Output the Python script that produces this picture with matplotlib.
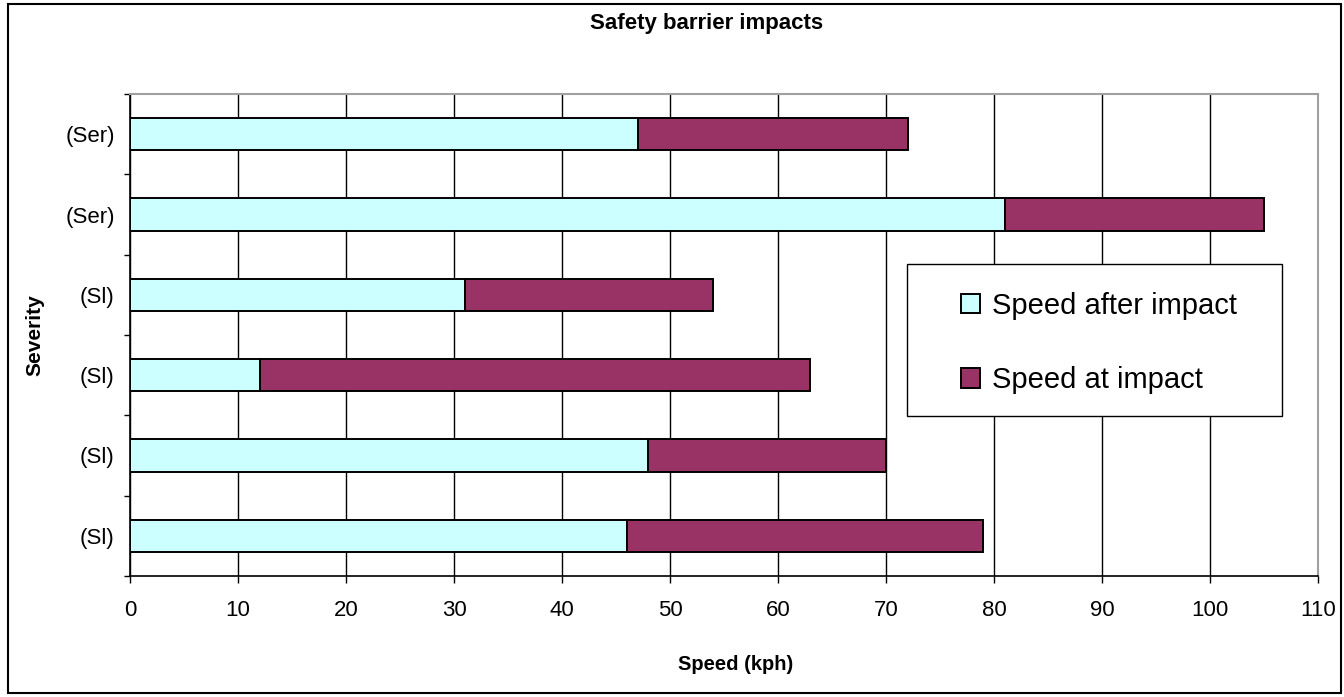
import matplotlib
matplotlib.use("Agg")
import matplotlib.pyplot as plt
from matplotlib.patches import Rectangle
import numpy as np

plt.rcParams["font.family"] = ["Liberation Sans", "DejaVu Sans"]

# bottom to top, as drawn
severity = ["(Sl)", "(Sl)", "(Sl)", "(Sl)", "(Ser)", "(Ser)"]
speed_after_impact = [46, 48, 12, 31, 81, 47]
speed_at_impact = [33, 22, 51, 23, 24, 25]
x_ticks = list(range(0, 111, 10))

W, H = 1344, 697
fig = plt.figure(figsize=(W / 100, H / 100), dpi=100)
ax = fig.add_axes([130 / W, 1 - 576 / H, (1318 - 130) / W, (576 - 94) / H])

pos = np.arange(len(severity))
ax.barh(pos, speed_after_impact, height=0.4, color="#CCFFFF", edgecolor="black",
        linewidth=1.4, label="Speed after impact", zorder=3)
ax.barh(pos, speed_at_impact, left=speed_after_impact, height=0.4, color="#993366",
        edgecolor="black", linewidth=1.4, label="Speed at impact", zorder=3)

ax.set_xlim(0, 110)
ax.set_ylim(-0.5, len(severity) - 0.5)
ax.set_xticks(x_ticks)
ax.set_xticklabels([str(v) for v in x_ticks], fontsize=16)
ax.set_yticks(pos)
ax.set_yticklabels(severity, fontsize=16)
ax.set_yticks(np.arange(-0.5, len(severity), 1), minor=True)
ax.tick_params(axis="y", which="major", length=0, pad=11)
ax.tick_params(axis="y", which="minor", length=4, width=1, direction="out")
ax.tick_params(axis="x", length=5, width=1, direction="out", pad=12)
ax.xaxis.grid(True, color="black", linewidth=1)
ax.set_axisbelow(True)

for side in ("top", "right"):
    ax.spines[side].set_color("#A0A0A0")
    ax.spines[side].set_linewidth(1.5)
for side in ("left", "bottom"):
    ax.spines[side].set_color("black")
    ax.spines[side].set_linewidth(1.2)

ax.set_xlabel("Speed (kph)", fontsize=14.5, fontweight="bold")
ax.set_ylabel("Severity", fontsize=15, fontweight="bold")
ax.xaxis.set_label_coords((736 - 130) / 1188, (576 - 664) / 482)
ax.yaxis.set_label_coords((35 - 130) / 1188, 0.5)
ax.xaxis.label.set_va("center")
ax.yaxis.label.set_va("center")
fig.text(707 / W, 1 - 24 / H, "Safety barrier impacts", ha="center", va="center",
         fontsize=16, fontweight="bold")

# legend box drawn separately so its size matches the original
ax.add_patch(Rectangle(((907 - 130) / 1188, (576 - 416) / 482), 375 / 1188, 152 / 482,
                       transform=ax.transAxes, facecolor="white", edgecolor="black",
                       linewidth=1, zorder=4))
leg = ax.legend(loc="center", bbox_to_anchor=((1099 - 130) / 1188, (576 - 343) / 482),
                fontsize=21, frameon=False, handlelength=0.65, handleheight=0.65,
                handletextpad=0.4, labelspacing=1.6, borderpad=0, borderaxespad=0)
leg.set_zorder(5)

fig.patches.append(Rectangle((8 / W, 4 / H), (1341 - 8) / W, (693 - 4) / H,
                             transform=fig.transFigure, fill=False,
                             edgecolor="black", linewidth=1.5))

fig.savefig("out.png", dpi=100)
